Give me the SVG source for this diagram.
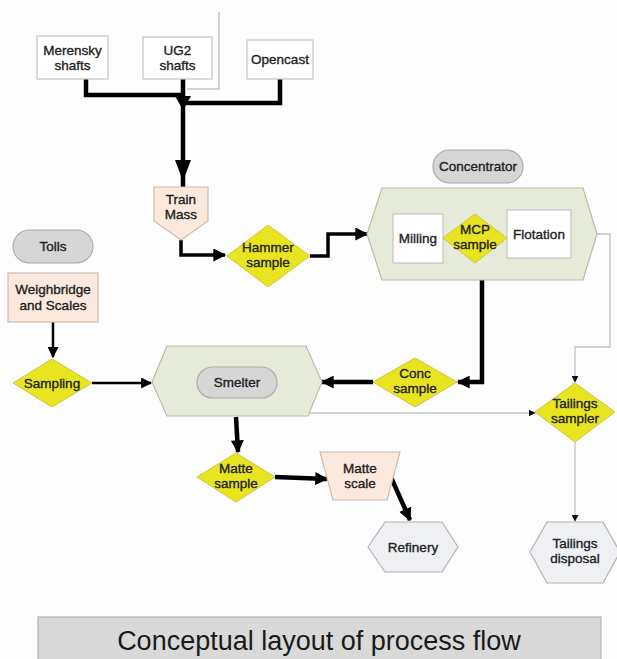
<svg xmlns="http://www.w3.org/2000/svg" width="617" height="659" viewBox="0 0 617 659">
<defs>
<style>
text{font-family:"Liberation Sans",Arial,sans-serif;font-size:13.5px;fill:#222;stroke:#222;stroke-width:0.35;text-anchor:middle}
.box{fill:#ffffff;stroke:#c4c4c4;stroke-width:1.2}
.peach{fill:#fbe9de;stroke:#c9beb6;stroke-width:1.2}
.dia{fill:#e8e41f;stroke:#cfc640;stroke-width:1}
.hex{fill:#e5ebd8;stroke:#b8bea8;stroke-width:1.2}
.pill{fill:#d6d6d6;stroke:#ababab;stroke-width:1.2}
.out{fill:#eef0f4;stroke:#b3b3b3;stroke-width:1.2}
.thick{fill:none;stroke:#000;stroke-width:4.5}
.med{fill:none;stroke:#000;stroke-width:3.5}
.thin2{fill:none;stroke:#000;stroke-width:2.5}
.thin{fill:none;stroke:#c2c2c2;stroke-width:1.3}
</style>
<marker id="ah" viewBox="0 0 10 10" markerUnits="userSpaceOnUse" markerWidth="14" markerHeight="13" refX="9" refY="5" orient="auto"><path d="M0,0 L10,5 L0,10 z" fill="#000"/></marker>
<marker id="ahs" viewBox="0 0 10 10" markerUnits="userSpaceOnUse" markerWidth="11" markerHeight="11" refX="9" refY="5" orient="auto"><path d="M0,0 L10,5 L0,10 z" fill="#000"/></marker>
<marker id="aht" viewBox="0 0 10 10" markerUnits="userSpaceOnUse" markerWidth="7" markerHeight="7" refX="9" refY="5" orient="auto"><path d="M0,0 L10,5 L0,10 z" fill="#111"/></marker>
</defs>
<rect width="617" height="659" fill="#fdfdfd"/>

<g id="connectors">
<path class="thin" d="M219,12 V89 H187"/>
<path class="thick" d="M86,79 V95 H183"/>
<path class="thick" d="M280,79 V103 H183"/>
<path class="thick" d="M183,79 V187"/>
<polygon points="175,96 191,96 183,110" fill="#000"/>
<polygon points="175,160 191,160 183,181" fill="#000"/>
<path class="med" d="M181,240 V255 H225" marker-end="url(#ah)"/>
<path class="med" d="M310,256 H328 V234 H367" marker-end="url(#ah)"/>
<path class="thin" d="M597,234 H610 V347 H575 V382" marker-end="url(#aht)"/>
<path class="thick" d="M482,280 V382 H458" marker-end="url(#ah)"/>
<path class="thick" d="M373,382 H322" marker-end="url(#ah)"/>
<path class="thin2" d="M53,322 V357" marker-end="url(#ahs)"/>
<path class="thin2" d="M92,383 H151" marker-end="url(#ahs)"/>
<path class="thin" d="M310,413 H535" marker-end="url(#aht)"/>
<path class="thin" d="M575,442 V521" marker-end="url(#aht)"/>
<path class="thick" d="M236,417 L238,452" marker-end="url(#ah)"/>
<path class="thick" d="M275,477 L327,479" marker-end="url(#ah)"/>
<path class="thick" d="M390,475 L410,520" marker-end="url(#ah)"/>
</g>

<g id="merensky"><rect class="box" x="37" y="36" width="71" height="43"/><text x="72.5" y="55">Merensky</text><text x="72.5" y="70">shafts</text></g>
<g id="ug2"><rect class="box" x="143" y="37" width="69" height="42"/><text x="177.5" y="55">UG2</text><text x="177.5" y="70">shafts</text></g>
<g id="opencast"><rect class="box" x="247" y="40" width="66" height="39"/><text x="280" y="64">Opencast</text></g>
<g id="train-mass"><polygon class="peach" points="154,187 208,187 208,221 181,240 154,221"/><text x="181" y="204">Train</text><text x="181" y="219">Mass</text></g>
<g id="hammer"><polygon class="dia" points="268,225 310,256 268,287 227,256"/><text x="268" y="252">Hammer</text><text x="268" y="267">sample</text></g>

<g id="concentrator"><polygon class="hex" points="367,234 382,188 583,188 597,234 583,280 382,280"/>
<rect class="pill" x="433" y="150" width="90" height="33" rx="16.5"/><text x="478" y="171">Concentrator</text></g>
<g id="milling"><rect class="box" x="393" y="214" width="50" height="49"/><text x="418" y="243">Milling</text></g>
<g id="mcp"><polygon class="dia" points="475,214 507,238 475,263 443,238"/><text x="475" y="234">MCP</text><text x="475" y="249">sample</text></g>
<g id="flotation"><rect class="box" x="507" y="210" width="64" height="48"/><text x="539" y="239">Flotation</text></g>

<g id="tolls"><rect class="pill" x="13" y="230" width="80" height="33" rx="16.5"/><text x="53" y="251">Tolls</text></g>
<g id="weighbridge"><rect class="peach" x="8" y="273" width="90" height="49"/><text x="53" y="294">Weighbridge</text><text x="53" y="310">and Scales</text></g>
<g id="sampling"><polygon class="dia" points="52,359 92,383 52,407 13,383"/><text x="52" y="388">Sampling</text></g>

<g id="smelter"><polygon class="hex" points="152,382 167,346 306,346 322,382 308,416 167,416"/>
<rect class="pill" x="197" y="367" width="80" height="31" rx="15.5"/><text x="237" y="387">Smelter</text></g>
<g id="conc-sample"><polygon class="dia" points="415,358 457,382 415,407 373,382"/><text x="415" y="378">Conc</text><text x="415" y="393">sample</text></g>
<g id="tailings-sampler"><polygon class="dia" points="575,383 615,412 575,442 535,412"/><text x="575" y="408">Tailings</text><text x="575" y="423">sampler</text></g>
<g id="matte-sample"><polygon class="dia" points="236,453 275,477 236,502 197,477"/><text x="236" y="473">Matte</text><text x="236" y="488">sample</text></g>
<g id="matte-scale"><polygon class="peach" points="320,452 400,452 387,500 333,500"/><text x="360" y="473">Matte</text><text x="360" y="488">scale</text></g>
<g id="refinery"><polygon class="out" points="368,547 385,522 442,522 458,547 442,572 385,572"/><text x="413" y="552">Refinery</text></g>
<g id="tailings-disposal"><polygon class="out" points="530,552 547,522 603,522 620,552 603,583 547,583"/><text x="575" y="548">Tailings</text><text x="575" y="563">disposal</text></g>

<g id="title"><rect x="38" y="617" width="563" height="46" fill="#d9d9d9" stroke="#b5b5b5" stroke-width="1.2"/><text x="319" y="650" style="font-size:27px;fill:#1a1a1a;stroke:none">Conceptual layout of process flow</text></g>
</svg>
